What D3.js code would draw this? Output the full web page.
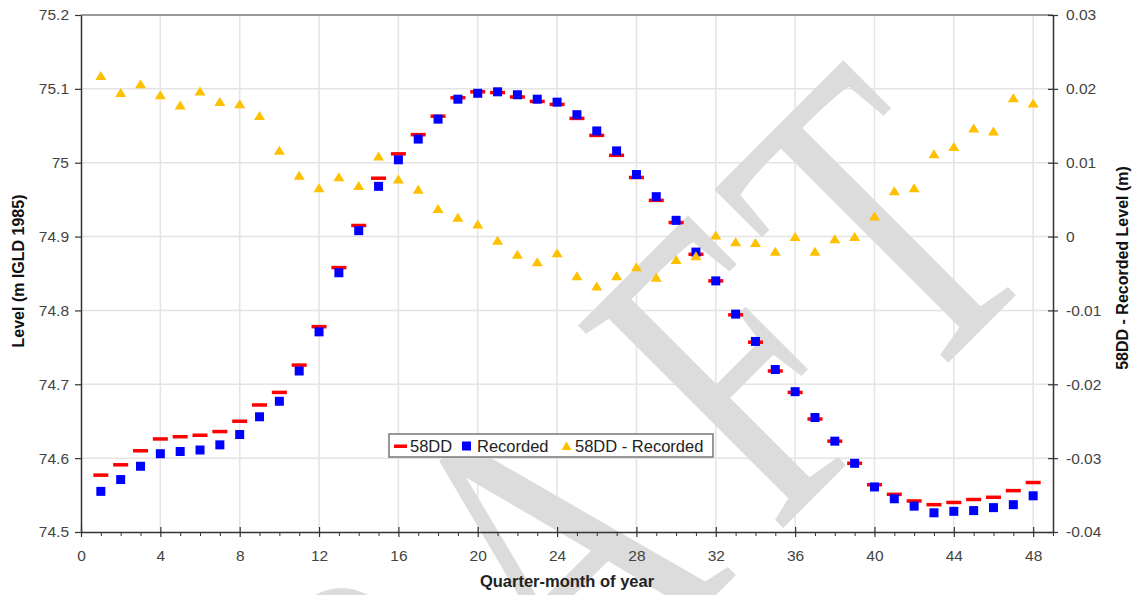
<!DOCTYPE html>
<html>
<head>
<meta charset="utf-8">
<script src="https://cdn.jsdelivr.net/npm/d3@7"></script>
<style>
    body { margin: 0; background: #fff; }
    #chart-area { width: 1135px; height: 595px; }
    svg text { font-family: Arial, "Liberation Sans", sans-serif; }
</style>
</head>
<body>
<div id="chart-area"></div>
<script>

// quarter-months of the year
const quarterMonths = [1, 2, 3, 4, 5, 6, 7, 8, 9, 10, 11, 12, 13, 14, 15, 16, 17, 18, 19, 20, 21, 22, 23, 24,
    25, 26, 27, 28, 29, 30, 31, 32, 33, 34, 35, 36, 37, 38, 39, 40, 41, 42, 43, 44, 45, 46, 47, 48];

// 58DD levels (m IGLD 1985)
const levels58DD = [74.577, 74.591, 74.610, 74.626, 74.629, 74.631, 74.636, 74.650, 74.672, 74.689, 74.726, 74.778,
    74.858, 74.915, 74.979, 75.012, 75.038, 75.063, 75.088, 75.096, 75.095, 75.089, 75.083, 75.079,
    75.060, 75.037, 75.010, 74.980, 74.949, 74.919, 74.876, 74.840, 74.794, 74.757, 74.718, 74.689,
    74.653, 74.623, 74.593, 74.564, 74.551, 74.542, 74.537, 74.540, 74.544, 74.547, 74.556, 74.567];

// recorded levels (m IGLD 1985)
const levelsRecorded = [74.555, 74.571, 74.589, 74.606, 74.609, 74.611, 74.618, 74.632, 74.656, 74.677, 74.718, 74.771,
    74.851, 74.908, 74.968, 75.004, 75.032, 75.059, 75.086, 75.094, 75.096, 75.092, 75.086, 75.082,
    75.065, 75.043, 75.016, 74.984, 74.954, 74.922, 74.879, 74.840, 74.795, 74.758, 74.720, 74.690,
    74.655, 74.623, 74.593, 74.561, 74.545, 74.535, 74.526, 74.528, 74.529, 74.533, 74.537, 74.549];

// 58DD - Recorded (m), right axis
const levelDifference = [0.0218, 0.0195, 0.0207, 0.0192, 0.0178, 0.0197, 0.0183, 0.0180, 0.0164, 0.0117, 0.0083, 0.0066,
    0.0081, 0.0069, 0.0109, 0.0078, 0.0064, 0.0038, 0.0026, 0.0017, -0.0005, -0.0024, -0.0034, -0.0022,
    -0.0053, -0.0067, -0.0053, -0.0041, -0.0055, -0.0031, -0.0026, 0.0002, -0.0007, -0.0008, -0.0020, 0.0000,
    -0.0020, -0.0003, 0.0000, 0.0028, 0.0062, 0.0066, 0.0112, 0.0122, 0.0147, 0.0143, 0.0188, 0.0181];

const seriesNames = ["58DD", "Recorded", "58DD - Recorded"];

const xTicks = [0, 4, 8, 12, 16, 20, 24, 28, 32, 36, 40, 44, 48];
const xMinorTicks = [1, 2, 3, 5, 6, 7, 9, 10, 11, 13, 14, 15, 17, 18, 19, 21, 22, 23, 25, 26, 27,
    29, 30, 31, 33, 34, 35, 37, 38, 39, 41, 42, 43, 45, 46, 47, 49];
const leftTicks = [74.5, 74.6, 74.7, 74.8, 74.9, 75.0, 75.1, 75.2];
const leftTickLabels = ["74.5", "74.6", "74.7", "74.8", "74.9", "75", "75.1", "75.2"];
const rightTicks = [-0.04, -0.03, -0.02, -0.01, 0, 0.01, 0.02, 0.03];
const rightTickLabels = ["-0.04", "-0.03", "-0.02", "-0.01", "0", "0.01", "0.02", "0.03"];


class LevelChart {

    constructor(parentElement) {
        this.parentElement = parentElement;
        this.initVis();
    }

    initVis() {
        let vis = this;

        vis.margin = {top: 15, right: 82, bottom: 63, left: 81};
        vis.width = 1135 - vis.margin.left - vis.margin.right;
        vis.height = 595 - vis.margin.top - vis.margin.bottom;

        vis.svgRoot = d3.select("#" + vis.parentElement).append("svg")
            .attr("width", 1135)
            .attr("height", 595);

        // layers: grid, watermark, then axes + marks on top
        vis.gridLayer = vis.svgRoot.append("g")
            .attr("transform", `translate (${vis.margin.left}, ${vis.margin.top})`);
        vis.watermarkLayer = vis.svgRoot.append("g");
        vis.svg = vis.svgRoot.append("g")
            .attr("transform", `translate (${vis.margin.left}, ${vis.margin.top})`);

        // Scales
        vis.x = d3.scaleLinear().domain([0, 49]).range([0, vis.width]);
        vis.yLeft = d3.scaleLinear().domain([74.5, 75.2]).range([vis.height, 0]);
        vis.yRight = d3.scaleLinear().domain([-0.04, 0.03]).range([vis.height, 0]);

        vis.data = quarterMonths.map((q, i) => ({
            q: q,
            dd: levels58DD[i],
            rec: levelsRecorded[i],
            diff: levelDifference[i]
        }));

        vis.drawGrid();
        vis.drawWatermark();
        vis.drawAxes();
        vis.drawMarks();
        vis.drawLegend();
    }

    drawGrid() {
        let vis = this;

        vis.gridLayer.append("g").selectAll("line")
            .data(xTicks.filter(d => d > 0))
            .enter().append("line")
            .attr("x1", d => vis.x(d)).attr("x2", d => vis.x(d))
            .attr("y1", 0).attr("y2", vis.height)
            .attr("stroke", "#e4e4e4").attr("stroke-width", 1.5);

        vis.gridLayer.append("g").selectAll("line")
            .data(leftTicks.slice(1, -1))
            .enter().append("line")
            .attr("x1", 0).attr("x2", vis.width)
            .attr("y1", d => vis.yLeft(d)).attr("y2", d => vis.yLeft(d))
            .attr("stroke", "#e4e4e4").attr("stroke-width", 1.5);

        // top border
        vis.gridLayer.append("line")
            .attr("x1", 0).attr("x2", vis.width)
            .attr("y1", 0).attr("y2", 0)
            .attr("stroke", "#9a9a9a").attr("stroke-width", 2);
    }

    drawWatermark() {
        let vis = this;

        // "DRAFT" stamp, letters placed along a -45 degree baseline
        let letters = [
            {ch: "D", u: -1118},
            {ch: "R", u: -890},
            {ch: "A", u: -672},
            {ch: "F", u: -390},
            {ch: "T", u: -194}
        ];

        vis.watermarkLayer.append("g")
            .attr("transform", "translate(1051, 260) rotate(-45)")
            .selectAll("text")
            .data(letters)
            .enter().append("text")
            .attr("transform", d => `translate(${d.u}, 0) scale(0.72, 1)`)
            .style("font-family", "'Liberation Serif', 'Times New Roman', serif")
            .style("font-size", "440px")
            .attr("fill", "#dcdcdc")
            .text(d => d.ch);
    }

    drawAxes() {
        let vis = this;

        // bottom axis, major ticks crossing the line
        let xAxis = vis.svg.append("g")
            .attr("class", "x-axis")
            .attr("transform", `translate(0, ${vis.height})`)
            .call(d3.axisBottom(vis.x).tickValues(xTicks).tickSize(5).tickPadding(13).tickSizeOuter(0));
        xAxis.selectAll(".tick line").attr("y1", -5);

        let xMinor = vis.svg.append("g")
            .attr("transform", `translate(0, ${vis.height})`)
            .call(d3.axisBottom(vis.x).tickValues(xMinorTicks).tickSize(4).tickFormat("").tickSizeOuter(0));
        xMinor.select(".domain").remove();
        xMinor.selectAll(".tick line").attr("stroke", "#333");

        let yAxisLeft = vis.svg.append("g")
            .attr("class", "y-axis-left")
            .call(d3.axisLeft(vis.yLeft).tickValues(leftTicks).tickSize(6).tickPadding(6).tickSizeOuter(0)
                .tickFormat((d, i) => leftTickLabels[i]));

        let yAxisRight = vis.svg.append("g")
            .attr("class", "y-axis-right")
            .attr("transform", `translate(${vis.width}, 0)`)
            .call(d3.axisRight(vis.yRight).tickValues(rightTicks).tickSize(5).tickPadding(8).tickSizeOuter(0)
                .tickFormat((d, i) => rightTickLabels[i]));
        yAxisRight.selectAll(".tick line").attr("x1", -5);

        [xAxis, yAxisLeft, yAxisRight].forEach(a => {
            a.select(".domain").attr("stroke", "#333").attr("stroke-width", 1.5);
            a.selectAll(".tick line").attr("stroke", "#333").attr("stroke-width", 1.2);
            a.selectAll(".tick text")
                .style("font-size", "15.5px")
                .attr("fill", "#444");
        });

        // axis titles
        vis.svgRoot.append("text")
            .attr("x", 567).attr("y", 587)
            .attr("text-anchor", "middle")
            .style("font-size", "16.5px").style("font-weight", "bold")
            .attr("fill", "#222")
            .text("Quarter-month of year");

        vis.svgRoot.append("text")
            .attr("transform", "translate(24, 271) rotate(-90)")
            .attr("text-anchor", "middle")
            .style("font-size", "16px").style("font-weight", "bold")
            .attr("fill", "#111")
            .text("Level (m IGLD 1985)");

        vis.svgRoot.append("text")
            .attr("transform", "translate(1128, 268) rotate(-90)")
            .attr("text-anchor", "middle")
            .style("font-size", "16px").style("font-weight", "bold")
            .attr("fill", "#111")
            .text("58DD - Recorded Level (m)");
    }

    drawMarks() {
        let vis = this;

        // 58DD dashes
        vis.svg.append("g").selectAll("rect")
            .data(vis.data)
            .enter().append("rect")
            .attr("x", d => vis.x(d.q) - 7.5)
            .attr("y", d => vis.yLeft(d.dd) - 1.75)
            .attr("width", 15)
            .attr("height", 3.5)
            .attr("fill", "#ff0000");

        // recorded squares
        vis.svg.append("g").selectAll("rect")
            .data(vis.data)
            .enter().append("rect")
            .attr("x", d => vis.x(d.q) - 4.5)
            .attr("y", d => vis.yLeft(d.rec) - 4.5)
            .attr("width", 9)
            .attr("height", 9)
            .attr("fill", "#0000ff");

        // difference triangles
        vis.svg.append("g").selectAll("path")
            .data(vis.data)
            .enter().append("path")
            .attr("transform", d => `translate(${vis.x(d.q)}, ${vis.yRight(d.diff)})`)
            .attr("d", "M0,-4.5L5.5,4.5L-5.5,4.5Z")
            .attr("fill", "#ffc000");
    }

    drawLegend() {
        let vis = this;

        let legend = vis.svgRoot.append("g")
            .attr("transform", "translate(389, 434)");

        legend.append("rect")
            .attr("width", 324).attr("height", 23)
            .attr("fill", "#fff")
            .attr("stroke", "#777").attr("stroke-width", 1.5);

        let markX = [5, 73, 173];
        let textX = [21, 88, 186];

        let items = legend.selectAll("g.item")
            .data(seriesNames)
            .enter().append("g")
            .attr("transform", "translate(0, 12)");

        items.filter((d, i) => i === 0).append("rect")
            .attr("x", markX[0]).attr("y", -1.5).attr("width", 13).attr("height", 3.5).attr("fill", "#ff0000");
        items.filter((d, i) => i === 1).append("rect")
            .attr("x", markX[1]).attr("y", -4.5).attr("width", 9).attr("height", 9).attr("fill", "#0000ff");
        items.filter((d, i) => i === 2).append("path")
            .attr("transform", `translate(${markX[2] + 4.5}, 0)`)
            .attr("d", "M0,-4.5L5,4L-5,4Z").attr("fill", "#ffc000");

        items.append("text")
            .attr("x", (d, i) => textX[i]).attr("y", 6)
            .style("font-size", "16.5px")
            .attr("fill", "#222")
            .text(d => d);
    }
}

new LevelChart("chart-area");

</script>
</body>
</html>
